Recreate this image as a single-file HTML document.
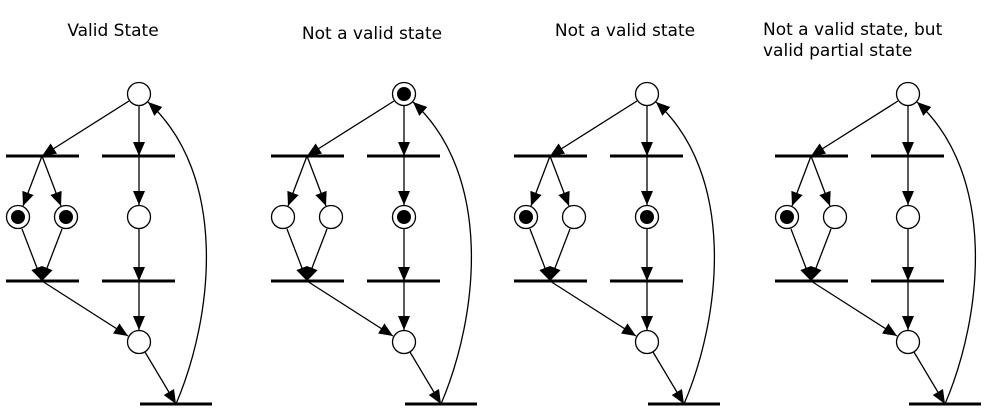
<!DOCTYPE html>
<html><head><style>
html,body{margin:0;padding:0;background:#fff;}
svg{display:block;}
text{font-family:"DejaVu Sans","Liberation Sans",sans-serif;font-size:17px;fill:#000;}
</style></head><body>
<svg width="987" height="411" viewBox="0 0 987 411" xmlns="http://www.w3.org/2000/svg">
<defs>
<marker id="a" markerUnits="userSpaceOnUse" markerWidth="15" markerHeight="12" refX="14" refY="6" orient="auto">
<path d="M0,0 L14,6 L0,12 Z" fill="#000"/>
</marker>
<g id="d">
<g stroke="#000" stroke-width="1.3" fill="none" marker-end="url(#a)">
<line x1="129" y1="101" x2="42" y2="156"/>
<line x1="139" y1="106" x2="139" y2="156"/>
<line x1="42" y1="156" x2="23" y2="206"/>
<line x1="42" y1="156" x2="61" y2="206"/>
<line x1="139" y1="156" x2="139" y2="205"/>
<line x1="22" y1="229" x2="42" y2="281"/>
<line x1="62" y1="229" x2="42" y2="281"/>
<line x1="139" y1="229" x2="139" y2="281"/>
<line x1="42" y1="281" x2="128" y2="336"/>
<line x1="139" y1="281" x2="139" y2="330"/>
<line x1="145" y1="352" x2="176" y2="404"/>
<path d="M176,404 C214,315 228,175 148,102"/>
</g>
<g stroke="#000" stroke-width="3">
<line x1="6" y1="156" x2="79" y2="156"/>
<line x1="102" y1="156" x2="175" y2="156"/>
<line x1="6" y1="281" x2="79" y2="281"/>
<line x1="102" y1="281" x2="175" y2="281"/>
<line x1="140" y1="404" x2="212" y2="404"/>
</g>
<g stroke="#000" stroke-width="1.3" fill="#fff">
<circle cx="139" cy="94" r="11.5"/>
<circle cx="18" cy="217" r="11.5"/>
<circle cx="66" cy="217" r="11.5"/>
<circle cx="139" cy="217" r="11.5"/>
<circle cx="139" cy="342" r="11.5"/>
</g>
</g>
</defs>
<text x="113" y="36" text-anchor="middle">Valid State</text>
<text x="372" y="39" text-anchor="middle">Not a valid state</text>
<text x="625" y="36" text-anchor="middle">Not a valid state</text>
<text x="763" y="35">Not a valid state, but</text>
<text x="763" y="56">valid partial state</text>

<use href="#d"/>
<circle cx="18" cy="217" r="7" fill="#000"/>
<circle cx="66" cy="217" r="7" fill="#000"/>

<use href="#d" x="265"/>
<circle cx="404" cy="94" r="7" fill="#000"/>
<circle cx="404" cy="217" r="7" fill="#000"/>

<use href="#d" x="508"/>
<circle cx="526" cy="217" r="7" fill="#000"/>
<circle cx="647" cy="217" r="7" fill="#000"/>

<use href="#d" x="769"/>
<circle cx="787" cy="217" r="7" fill="#000"/>
</svg>
</body></html>
